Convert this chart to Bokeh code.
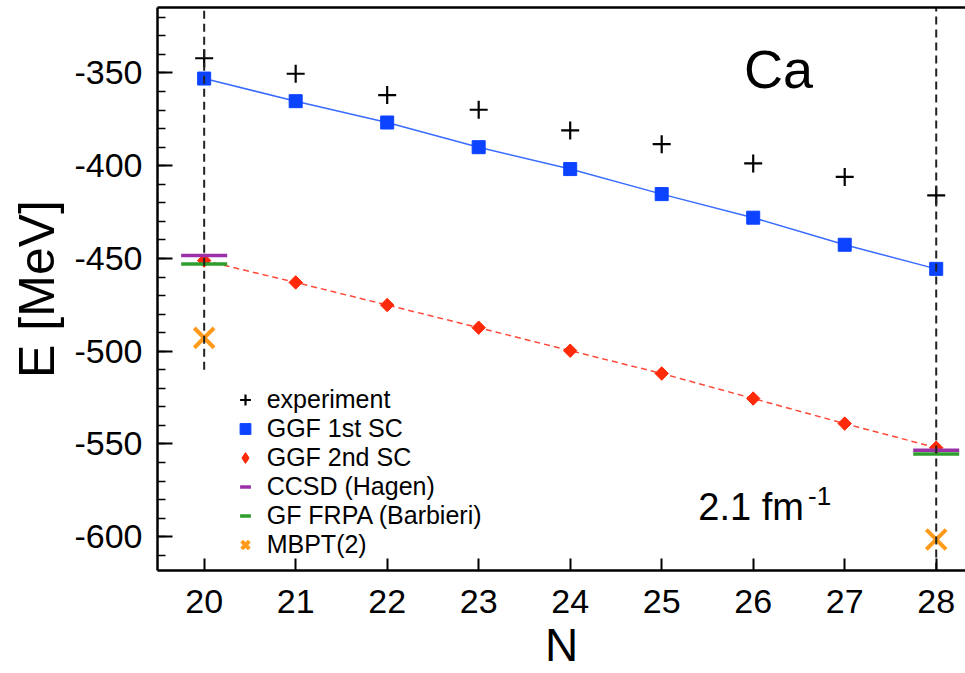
from bokeh.plotting import figure
from bokeh.models import (Range1d, LinearAxis, FixedTicker, SingleIntervalTicker,
                          Legend, LegendItem, Label, PrintfTickFormatter)
from bokeh.embed import file_html
from bokeh.resources import INLINE
import math

FONT = "Liberation Sans"

# ---- data ----
N = [20, 21, 22, 23, 24, 25, 26, 27, 28]
experiment = [-342.05, -350.41, -361.90, -369.83, -380.96, -388.37, -398.77, -406.05, -415.99]
ggf_1st_sc = [-353.0, -365.2, -376.7, -390.0, -401.8, -415.3, -428.0, -442.6, -455.6]
ggf_2nd_sc = [-451.1, -462.9, -475.1, -487.3, -499.7, -512.0, -525.5, -539.0, -552.0]
closed_N = [20, 28]
ccsd_hagen = [-448.4, -553.4]
gf_frpa_barbieri = [-453.0, -555.4]
mbpt2 = [-492.8, -601.5]
shell_line_bottom = [-510.0, -618.2]
shell_line_top = [-314.7, -314.7]
x_ticks = N

p = figure(width=965, height=673, x_range=Range1d(19.49, 28.32), y_range=Range1d(-618.2, -314.7),
           output_backend="svg", toolbar_location=None,
           min_border_left=157, min_border_right=0, min_border_top=7, min_border_bottom=101)
p.xgrid.visible = False
p.ygrid.visible = False
p.outline_line_color = None
p.background_fill_color = "white"

# axes
xa = p.xaxis[0]
xa.ticker = FixedTicker(ticks=x_ticks, minor_ticks=[])
xa.major_tick_in = 12
xa.major_tick_out = 0
xa.major_tick_line_width = 2
xa.axis_line_width = 2.5
xa.major_label_text_font = FONT
xa.major_label_text_font_size = "34px"
xa.major_label_text_color = "black"
xa.major_label_standoff = 19
xa.axis_label = "N"
xa.axis_label_text_font = FONT
xa.axis_label_text_font_size = "46px"
xa.axis_label_text_font_style = "normal"
xa.axis_label_text_color = "black"
xa.axis_label_standoff = 3

ya = p.yaxis[0]
ya.ticker = SingleIntervalTicker(interval=50, num_minor_ticks=5)
ya.formatter = PrintfTickFormatter(format="%d")
ya.major_tick_in = 15
ya.major_tick_out = 0
ya.minor_tick_in = 8
ya.minor_tick_out = 0
ya.major_tick_line_width = 2
ya.minor_tick_line_width = 1.5
ya.axis_line_width = 2.5
ya.major_label_text_font = FONT
ya.major_label_text_font_size = "34px"
ya.major_label_text_color = "black"
ya.major_label_standoff = 15
ya.axis_label = "E [MeV]"
ya.axis_label_text_font = FONT
ya.axis_label_text_font_size = "50px"
ya.axis_label_text_font_style = "normal"
ya.axis_label_text_color = "black"
ya.axis_label_standoff = 6

top = LinearAxis(ticker=FixedTicker(ticks=[]), major_tick_in=0, major_tick_out=0,
                 minor_tick_in=0, minor_tick_out=0, axis_line_width=2.5)
p.add_layout(top, "above")

# series
p.line(N, ggf_1st_sc, line_color="#3a6bff", line_width=1.5)
p.line(N, ggf_2nd_sc, line_color="#ff4a3a", line_width=1.5, line_dash="6 4")

r_exp = p.scatter(N, experiment, marker="cross", size=18, line_color="black", line_width=2.2)
r_g1 = p.scatter(N, ggf_1st_sc, marker="square", size=13, fill_color="#0b43ff", line_color="#0b43ff")
# diamond symbol used for the legend, hidden under the rotated squares in the plot
r_g2_leg = p.scatter(N, ggf_2nd_sc, marker="diamond", size=12, fill_color="#ff2a0a", line_color="#ff2a0a")
r_g2 = p.scatter(N, ggf_2nd_sc, marker="square", angle=math.pi / 4, size=9.5,
                 fill_color="#ff2a0a", line_color="#ff2a0a")
r_cc = p.scatter(closed_N, ccsd_hagen, marker="dash", size=46, line_color="#9b30a8", line_width=3.5)
r_fr = p.scatter(closed_N, gf_frpa_barbieri, marker="dash", size=46, line_color="#2e9e2e", line_width=3.5)
r_mb = p.scatter(closed_N, mbpt2, marker="x", size=28, line_color="#ff9a1a", line_width=4)

p.segment(x0=closed_N, y0=shell_line_bottom, x1=closed_N, y1=shell_line_top,
          line_color="#222222", line_width=2, line_dash="8 5")

legend = Legend(items=[
    LegendItem(label="experiment", renderers=[r_exp]),
    LegendItem(label="GGF 1st SC", renderers=[r_g1]),
    LegendItem(label="GGF 2nd SC", renderers=[r_g2_leg]),
    LegendItem(label="CCSD (Hagen)", renderers=[r_cc]),
    LegendItem(label="GF FRPA (Barbieri)", renderers=[r_fr]),
    LegendItem(label="MBPT(2)", renderers=[r_mb]),
], location=(72.7, 11.5), glyph_width=30, glyph_height=27, spacing=0, padding=0, margin=0,
    label_standoff=7, label_height=20, label_text_font=FONT, label_text_font_size="25px",
    label_text_color="black", border_line_color=None, background_fill_alpha=0)
p.add_layout(legend)

p.add_layout(Label(x=25.90, y=-347.8, text="Ca", text_font=FONT, text_font_size="54px",
                   text_color="black", text_baseline="middle"))
p.add_layout(Label(x=25.40, y=-583.7, text="2.1 fm", text_font=FONT, text_font_size="38px",
                   text_color="black", text_baseline="middle"))
p.add_layout(Label(x=26.60, y=-578.3, text="-1", text_font=FONT, text_font_size="26px",
                   text_color="black", text_baseline="middle"))

open("out.html", "w").write(file_html(p, INLINE))
